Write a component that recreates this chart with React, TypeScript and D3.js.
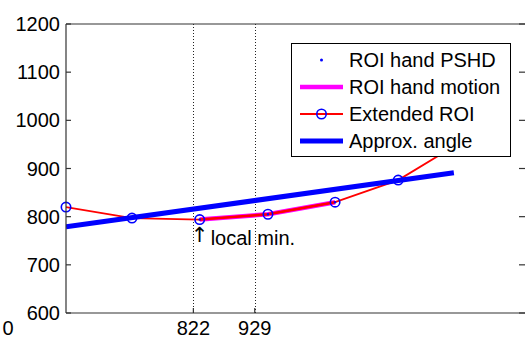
import React from "react";
import * as d3 from "d3";

const W = 525;
const H = 338;

// Extended ROI (red line with circles)
const roiX = [600, 715, 833, 952, 1069, 1179, 1296];
const roiY = [820, 797, 794, 805, 830, 876, 960];
// ROI hand motion (magenta)
const handX = [833, 952, 1069];
const handY = [794, 805, 830];
// ROI hand PSHD (dots)
const pshdX = [833, 952, 1069];
const pshdY = [794, 805, 830];
// Approx. angle (blue line)
const angleX = [600, 1276];
const angleY = [779, 891];

const yTicks = [600, 700, 800, 900, 1000, 1100, 1200];
const xTicks = [822, 929];
const legendLabels = ["ROI hand PSHD", "ROI hand motion", "Extended ROI", "Approx. angle"];

const FONT = "'Liberation Sans', Arial, Helvetica, sans-serif";

export default function App() {
  const left = 66, right = 525, top = 24, bottom = 313;
  const x = d3.scaleLinear().domain([600, 1400]).range([left, right]);
  const y = d3.scaleLinear().domain([600, 1200]).range([bottom, top]);

  const line = d3
    .line<[number, number]>()
    .x((d) => x(d[0]))
    .y((d) => y(d[1]));

  const roi = roiX.map((v, i) => [v, roiY[i]] as [number, number]);
  const hand = handX.map((v, i) => [v, handY[i]] as [number, number]);
  const angle = angleX.map((v, i) => [v, angleY[i]] as [number, number]);

  const axisColor = "#333";
  const lx0 = 300, lx1 = 343, lxm = 321.5, ltx = 349;
  const lrows = [60, 87, 114, 141];

  const minX = roiX[2];
  const minY = roiY[2];

  return (
    <svg
      width={W}
      height={H}
      style={{ position: "absolute", left: 0, top: 0, background: "#fff" }}
      fontFamily={FONT}
    >
      <defs>
        <clipPath id="plot">
          <rect x={left} y={top} width={right - left} height={bottom - top} />
        </clipPath>
      </defs>
      <rect x={0} y={0} width={W} height={H} fill="#fff" />

      {/* dotted vertical lines */}
      {xTicks.map((t) => (
        <line
          key={t}
          x1={Math.round(x(t)) + 0.5}
          x2={Math.round(x(t)) + 0.5}
          y1={top}
          y2={bottom}
          stroke="#222"
          strokeWidth={1}
          strokeDasharray="1,2"
        />
      ))}

      <g clipPath="url(#plot)">
        <path d={line(hand) || ""} fill="none" stroke="#ff00ff" strokeWidth={4.5} />
        <path d={line(roi) || ""} fill="none" stroke="#ff0000" strokeWidth={1.8} />
        <path d={line(hand) || ""} fill="none" stroke="#ff0000" strokeWidth={2.6} />
      </g>
      {roi.map((d, i) => (
        <circle key={i} cx={x(d[0])} cy={y(d[1])} r={4.7} fill="none" stroke="#0000ff" strokeWidth={1.6} />
      ))}
      {pshdX.map((v, i) => (
        <circle key={"p" + i} cx={x(v)} cy={y(pshdY[i])} r={1.2} fill="#0000ff" />
      ))}
      <g clipPath="url(#plot)">
        <path d={line(angle) || ""} fill="none" stroke="#0000ff" strokeWidth={5} />
      </g>

      {/* local min annotation */}
      <text x={x(minX) - 9} y={y(minY) + 22} fontSize={21} fill="#000" fontFamily="'DejaVu Sans', sans-serif">
        {"\u2191"}
      </text>
      <text x={x(minX) + 11} y={y(minY) + 25} fontSize={20} fill="#000">
        local min.
      </text>

      {/* axes box */}
      <line x1={left} x2={left} y1={top} y2={bottom} stroke={axisColor} strokeWidth={1.2} />
      <line x1={left} x2={right} y1={bottom} y2={bottom} stroke={axisColor} strokeWidth={1.2} />
      <line x1={left} x2={right} y1={top} y2={top} stroke={axisColor} strokeWidth={1.2} />

      {/* y ticks */}
      {yTicks.map((t) => (
        <g key={t}>
          <line x1={left} x2={left + 5} y1={y(t)} y2={y(t)} stroke={axisColor} strokeWidth={1.2} />
          <line x1={right - 6} x2={right} y1={y(t)} y2={y(t)} stroke={axisColor} strokeWidth={1.2} />
          <text x={left - 6} y={y(t) + 7} fontSize={20} textAnchor="end" fill="#000">
            {t}
          </text>
        </g>
      ))}

      {/* x ticks */}
      {xTicks.map((t) => (
        <g key={t}>
          <line x1={x(t)} x2={x(t)} y1={bottom} y2={bottom - 5} stroke={axisColor} strokeWidth={1.2} />
          <text x={x(t)} y={335} fontSize={20} textAnchor="middle" fill="#000">
            {t}
          </text>
        </g>
      ))}
      <text x={8} y={335} fontSize={20} textAnchor="middle" fill="#000">
        0
      </text>

      {/* legend */}
      <rect x={291.5} y={43.5} width={219} height={113} fill="#fff" stroke="#000" strokeWidth={1} />
      <circle cx={lxm} cy={lrows[0]} r={1.5} fill="#0000ff" />
      <line x1={lx0} x2={lx1} y1={lrows[1]} y2={lrows[1]} stroke="#ff00ff" strokeWidth={4.5} />
      <line x1={lx0} x2={lx1} y1={lrows[2]} y2={lrows[2]} stroke="#ff0000" strokeWidth={1.8} />
      <circle cx={lxm} cy={lrows[2]} r={4.7} fill="none" stroke="#0000ff" strokeWidth={1.6} />
      <line x1={lx0} x2={lx1} y1={lrows[3]} y2={lrows[3]} stroke="#0000ff" strokeWidth={5} />
      {legendLabels.map((s, i) => (
        <text key={s} x={ltx} y={lrows[i] + 7} fontSize={20} fill="#000">
          {s}
        </text>
      ))}
    </svg>
  );
}
